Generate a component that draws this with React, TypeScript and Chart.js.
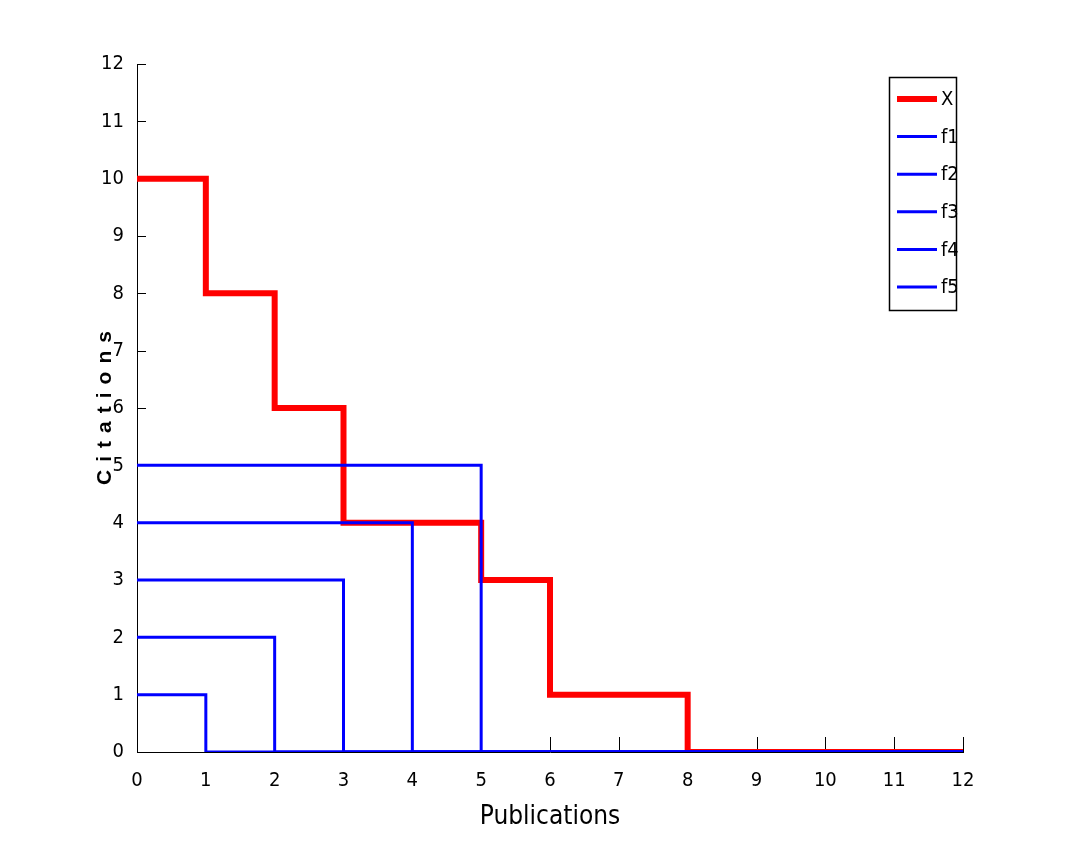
import React, { useEffect, useRef } from "react";
import { Chart, registerables } from "chart.js";

Chart.register(...registerables);

const publications = [0, 1, 2, 3, 4, 5, 6, 7, 8, 9, 10, 11, 12];
const citationsX = [10, 8, 6, 4, 4, 3, 1, 1, 0, 0, 0, 0, 0];
const f1 = [1, 0, 0, 0, 0, 0, 0, 0, 0, 0, 0, 0, 0];
const f2 = [2, 2, 0, 0, 0, 0, 0, 0, 0, 0, 0, 0, 0];
const f3 = [3, 3, 3, 0, 0, 0, 0, 0, 0, 0, 0, 0, 0];
const f4 = [4, 4, 4, 4, 0, 0, 0, 0, 0, 0, 0, 0, 0];
const f5 = [5, 5, 5, 5, 5, 0, 0, 0, 0, 0, 0, 0, 0];
const seriesNames = ["X", "f1", "f2", "f3", "f4", "f5"];
const xTitle = "Publications";
const yTitle = "Citations";

const FONT = "'Liberation Sans Narrow', 'DejaVu Sans Condensed', 'Liberation Sans', sans-serif";

function toPoints(vals: number[]) {
  return vals.map((v, i) => ({ x: publications[i], y: v }));
}

const decorPlugin = {
  id: "decor",
  beforeDatasetsDraw(chart: any) {
    const ctx = chart.ctx;
    const xs = chart.scales.x;
    const ys = chart.scales.y;
    const area = chart.chartArea;
    ctx.save();
    ctx.strokeStyle = "#000";
    ctx.lineWidth = 1;
    ctx.beginPath();
    for (const t of ys.ticks) {
      const py = Math.round(ys.getPixelForValue(t.value)) + 0.5;
      ctx.moveTo(area.left, py);
      ctx.lineTo(area.left + 9, py);
    }
    for (const t of xs.ticks) {
      const px = Math.round(xs.getPixelForValue(t.value)) + 0.5;
      ctx.moveTo(px, area.bottom);
      ctx.lineTo(px, area.bottom - 15);
    }
    ctx.stroke();
    ctx.restore();
  },
  afterDraw(chart: any) {
    const ctx = chart.ctx;
    const area = chart.chartArea;
    ctx.save();
    // x title
    ctx.fillStyle = "#000";
    ctx.font = `26px ${FONT}`;
    ctx.textAlign = "center";
    ctx.textBaseline = "middle";
    ctx.fillText(xTitle, (area.left + area.right) / 2, 817);
    // y title
    ctx.save();
    ctx.translate(105, (area.top + area.bottom) / 2);
    ctx.rotate(-Math.PI / 2);
    ctx.font = `bold 21px 'Liberation Sans', sans-serif`;
    (ctx as any).letterSpacing = "8px";
    ctx.textAlign = "center";
    ctx.textBaseline = "middle";
    ctx.fillText(yTitle, 4, 0);
    ctx.restore();

    // legend
    const bx = 889.5, by = 77.5, bw = 67, bh = 233;
    ctx.fillStyle = "#fff";
    ctx.fillRect(bx, by, bw, bh);
    ctx.strokeStyle = "#000";
    ctx.lineWidth = 1.5;
    ctx.strokeRect(bx, by, bw, bh);
    const ds = chart.data.datasets;
    seriesNames.forEach((name, i) => {
      const y = 99 + i * 37.6;
      ctx.strokeStyle = ds[i].borderColor;
      ctx.lineWidth = ds[i].borderWidth;
      ctx.beginPath();
      ctx.moveTo(897, y);
      ctx.lineTo(937, y);
      ctx.stroke();
      ctx.fillStyle = "#000";
      ctx.font = `20px ${FONT}`;
      ctx.textAlign = "left";
      ctx.textBaseline = "middle";
      ctx.fillText(name, 941, y + 1);
    });
    ctx.restore();
  },
};

export default function App() {
  const ref = useRef<HTMLCanvasElement>(null);
  useEffect(() => {
    document.body.style.margin = "0";
    const blue = (data: number[], label: string) => ({
      label,
      data: toPoints(data),
      borderColor: "#0000ff",
      backgroundColor: "#0000ff",
      borderWidth: 3,
      stepped: true,
      pointRadius: 0,
      fill: false,
      order: 0,
    });
    const chart = new Chart(ref.current!, {
      type: "line",
      data: {
        datasets: [
          {
            label: seriesNames[0],
            data: toPoints(citationsX),
            borderColor: "#ff0000",
            backgroundColor: "#ff0000",
            borderWidth: 6,
            stepped: true,
            pointRadius: 0,
            fill: false,
            order: 1,
          },
          blue(f1, seriesNames[1]),
          blue(f2, seriesNames[2]),
          blue(f3, seriesNames[3]),
          blue(f4, seriesNames[4]),
          blue(f5, seriesNames[5]),
        ],
      },
      plugins: [decorPlugin],
      options: {
        animation: false,
        responsive: false,
        layout: { padding: { top: 64, right: 103, left: 0, bottom: 0 } },
        plugins: { legend: { display: false }, tooltip: { enabled: false } },
        scales: {
          x: {
            type: "linear",
            min: 0,
            max: 12,
            grid: { display: false },
            border: { display: true, color: "#000", width: 1 },
            ticks: {
              stepSize: 1,
              color: "#000",
              padding: 9,
              font: { family: FONT, size: 20 },
            },
            afterFit: (s: any) => {
              s.height = 94;
            },
          },
          y: {
            type: "linear",
            min: 0,
            max: 12,
            grid: { display: false },
            border: { display: true, color: "#000", width: 1 },
            ticks: {
              stepSize: 1,
              color: "#000",
              padding: 5,
              font: { family: FONT, size: 20 },
            },
            afterFit: (s: any) => {
              s.width = 137;
            },
          },
        },
      },
    });
    return () => chart.destroy();
  }, []);
  return (
    <div style={{ width: 1066, height: 846, background: "#fff" }}>
      <canvas ref={ref} width={1066} height={846} />
    </div>
  );
}
